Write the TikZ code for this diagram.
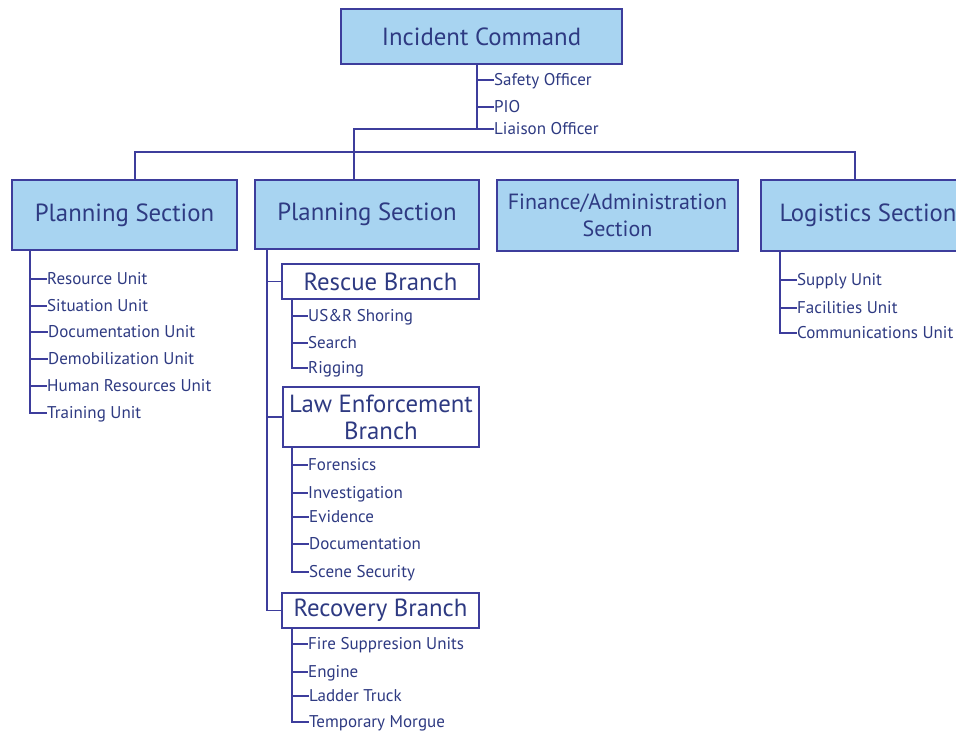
\documentclass[tikz,border=0pt]{standalone}
\usepackage{fontspec}
\setmainfont{PT Sans}
\definecolor{boxfill}{HTML}{A8D4F1}
\definecolor{lineblue}{HTML}{3D3D9C}
\definecolor{textblue}{HTML}{2E3A82}
\begin{document}
\begin{tikzpicture}[x=1pt,y=-1pt,
  sec/.style={draw=lineblue, line width=1.8pt, fill=boxfill, text=textblue, font=\fontsize{24.8}{27}\selectfont, inner sep=0pt, align=center},
  brbox/.style={draw=lineblue, line width=1.8pt, fill=white, text=textblue, font=\fontsize{24.8}{27}\selectfont, inner sep=0pt, align=center},
  item/.style={anchor=west, text=textblue, font=\fontsize{17}{19}\selectfont, inner sep=0pt, text height=11pt, text depth=0pt},
  ln/.style={draw=lineblue, line width=1.8pt}]
\useasboundingbox (0,0) rectangle (956,732);
\fill[white] (0,0) rectangle (956,732);
\begin{scope}
\clip (0,0) rectangle (956,732);
% boxes
\node[sec, minimum width=281pt, minimum height=55pt] (ic) at (481.5,36.5) {Incident Command};
\node[sec, minimum width=225pt, minimum height=70pt] (ps1) at (124.5,215) {Planning Section};
\node[sec, minimum width=224pt, minimum height=69pt] (ps2) at (367,214.5) {Planning Section};
\node[sec, minimum width=241pt, minimum height=71pt, font=\fontsize{22}{27}\selectfont] (fin) at (617.5,215.5) {Finance/Administration\\Section};
\node[sec, minimum width=214pt, minimum height=71pt] (log) at (868,215.5) {Logistics Section};
\node[brbox, minimum width=197pt, minimum height=35pt] (rescue) at (380.5,281.5) {Rescue Branch};
\node[brbox, minimum width=196pt, minimum height=60pt] (le) at (381,417) {Law Enforcement\\Branch};
\node[brbox, minimum width=197pt, minimum height=35pt] (recovery) at (380.5,610.5) {Recovery Branch};
% items
\node[item] (safety) at (494,80) {Safety Officer};
\node[item] (pio) at (494,107) {PIO};
\node[item] (liaison) at (494,129) {Liaison Officer};
\node[item] (res) at (47,279) {Resource Unit};
\node[item] (sit) at (47,306) {Situation Unit};
\node[item] (doc) at (48,332) {Documentation Unit};
\node[item] (demob) at (48,359) {Demobilization Unit};
\node[item] (hr) at (47,386) {Human Resources Unit};
\node[item] (train) at (47,413) {Training Unit};
\node[item] (usr) at (308,316) {US\&R Shoring};
\node[item] (search) at (308,343) {Search};
\node[item] (rig) at (308,368) {Rigging};
\node[item] (foren) at (308,465) {Forensics};
\node[item] (invest) at (308,493) {Investigation};
\node[item] (evid) at (309,517) {Evidence};
\node[item] (ledoc) at (309,544) {Documentation};
\node[item] (scene) at (309,572) {Scene Security};
\node[item] (fire) at (308,644) {Fire Suppresion Units};
\node[item] (engine) at (308,672) {Engine};
\node[item] (ladder) at (309,696) {Ladder Truck};
\node[item] (morgue) at (309,722) {Temporary Morgue};
\node[item] (supply) at (797,280) {Supply Unit};
\node[item] (facil) at (797,308) {Facilities Unit};
\node[item] (comm) at (797,333) {Communications Unit};
% helper coordinates
\coordinate (icx) at (477,0);
\coordinate (ps1x) at (30,0);
\coordinate (ps2x) at (267,0);
\coordinate (brx) at (292,0);
\coordinate (logx) at (780,0);
\coordinate (j) at (354,129);
\coordinate (bar1) at (135,152);
\coordinate (bar2) at (855,152);
% connectors
\draw[ln] (ic.south -| icx) |- (liaison.west);
\draw[ln] (safety.west -| icx) -- (safety.west);
\draw[ln] (pio.west -| icx) -- (pio.west);
\draw[ln] (liaison.west -| icx) -- (j) -- (ps2.north -| j);
\draw[ln] (ps1.north -| bar1) -- (bar1) -- (bar2) -- (log.north -| bar2);
% planning 1
\draw[ln] (ps1.south -| ps1x) |- (train.west);
\foreach \n in {res,sit,doc,demob,hr} \draw[ln] (\n.west -| ps1x) -- (\n.west);
% planning 2
\draw[ln] (ps2.south -| ps2x) |- (recovery.west);
\draw[ln] (rescue.west -| ps2x) -- (rescue.west);
\draw[ln] (le.west -| ps2x) -- (le.west);
\draw[ln] (rescue.south -| brx) |- (rig.west);
\foreach \n in {usr,search} \draw[ln] (\n.west -| brx) -- (\n.west);
\draw[ln] (le.south -| brx) |- (scene.west);
\foreach \n in {foren,invest,evid,ledoc} \draw[ln] (\n.west -| brx) -- (\n.west);
\draw[ln] (recovery.south -| brx) |- (morgue.west);
\foreach \n in {fire,engine,ladder} \draw[ln] (\n.west -| brx) -- (\n.west);
% logistics
\draw[ln] (log.south -| logx) |- (comm.west);
\foreach \n in {supply,facil} \draw[ln] (\n.west -| logx) -- (\n.west);
\end{scope}
\end{tikzpicture}
\end{document}
